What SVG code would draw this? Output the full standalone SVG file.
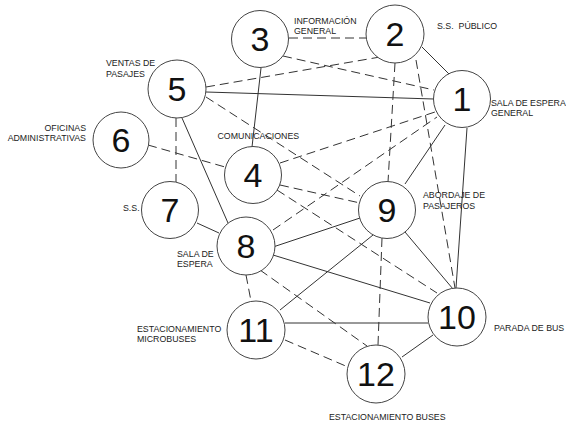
<svg xmlns="http://www.w3.org/2000/svg" width="566" height="425" viewBox="0 0 566 425">
<style>
.bg{fill:#fff}
.s{stroke:#333;stroke-width:1;fill:none}
.d{stroke:#333;stroke-width:1;fill:none;stroke-dasharray:9,5}
.n circle{fill:#fff;stroke:#444;stroke-width:1}
.n text{font-family:"Liberation Sans",Arial,sans-serif;font-size:34px;fill:#111;text-anchor:middle}
.l{font-family:"Liberation Sans",Arial,sans-serif;font-size:8.8px;fill:#222}
.e{text-anchor:end}
</style>
<rect class="bg" width="566" height="425"/>
<g id="connectors">
<line class="s" x1="422" y1="47" x2="450" y2="75"/>
<line class="s" x1="206" y1="92" x2="434" y2="99"/>
<line class="s" x1="261" y1="68" x2="252" y2="147"/>
<line class="s" x1="182" y1="118" x2="228" y2="223"/>
<line class="s" x1="197" y1="223" x2="219" y2="233"/>
<line class="s" x1="273" y1="247" x2="360" y2="218"/>
<line class="s" x1="273" y1="255" x2="430" y2="303"/>
<line class="s" x1="405" y1="184" x2="445" y2="125"/>
<line class="s" x1="467" y1="128" x2="456" y2="288"/>
<line class="s" x1="405" y1="232" x2="453" y2="289"/>
<line class="s" x1="280" y1="310" x2="373" y2="235"/>
<line class="s" x1="285" y1="323" x2="428" y2="323"/>
<line class="s" x1="402" y1="357" x2="433" y2="335"/>
<line class="d" x1="289" y1="38" x2="366" y2="38"/>
<line class="d" x1="283" y1="56" x2="434" y2="90"/>
<line class="d" x1="206" y1="87" x2="380" y2="57"/>
<line class="d" x1="176" y1="118" x2="176" y2="182"/>
<line class="d" x1="206" y1="97" x2="360" y2="196"/>
<line class="d" x1="148" y1="145" x2="225" y2="167"/>
<line class="d" x1="280" y1="163" x2="435" y2="112"/>
<line class="d" x1="280" y1="185" x2="360" y2="203"/>
<line class="d" x1="277" y1="190" x2="437" y2="293"/>
<line class="d" x1="273" y1="230" x2="437" y2="117"/>
<line class="d" x1="395" y1="63" x2="388" y2="182"/>
<line class="d" x1="416" y1="60" x2="455" y2="288"/>
<line class="d" x1="382" y1="238" x2="378" y2="345"/>
<line class="d" x1="246" y1="275" x2="251" y2="301"/>
<line class="d" x1="260" y1="270" x2="367" y2="346"/>
<line class="d" x1="285" y1="340" x2="348" y2="367"/>
</g>
<g id="node1" class="n"><circle cx="462" cy="99" r="28.5"/><text x="462" y="111">1</text></g>
<g id="node2" class="n"><circle cx="395" cy="34" r="29"/><text x="395" y="46">2</text></g>
<g id="node3" class="n"><circle cx="260" cy="39" r="28.5"/><text x="260" y="51">3</text></g>
<g id="node4" class="n"><circle cx="253" cy="175" r="28.5"/><text x="253" y="187">4</text></g>
<g id="node5" class="n"><circle cx="177" cy="89" r="29"/><text x="177" y="101">5</text></g>
<g id="node6" class="n"><circle cx="121" cy="140" r="28"/><text x="121" y="152">6</text></g>
<g id="node7" class="n"><circle cx="170" cy="210" r="28.5"/><text x="170" y="222">7</text></g>
<g id="node8" class="n"><circle cx="246" cy="246" r="29"/><text x="246" y="258">8</text></g>
<g id="node9" class="n"><circle cx="387" cy="210" r="28.5"/><text x="387" y="222">9</text></g>
<g id="node10" class="n"><circle cx="457" cy="317" r="29"/><text x="457" y="329">10</text></g>
<g id="node11" class="n"><circle cx="256" cy="330" r="29"/><text x="256" y="342">11</text></g>
<g id="node12" class="n"><circle cx="376" cy="374" r="29"/><text x="376" y="386">12</text></g>
<g id="labels">
<text class="l" x="294" y="24">INFORMACIÓN</text>
<text class="l" x="294" y="33.5">GENERAL</text>
<text class="l" x="437" y="28.5" xml:space="preserve">S.S.  PÚBLICO</text>
<text class="l" x="491" y="106">SALA DE ESPERA</text>
<text class="l" x="491" y="116">GENERAL</text>
<text class="l" x="106" y="66">VENTAS DE</text>
<text class="l" x="106" y="76.5">PASAJES</text>
<text class="l e" x="86" y="131">OFICINAS</text>
<text class="l e" x="86" y="141">ADMINISTRATIVAS</text>
<text class="l" x="217.5" y="138.5">COMUNICACIONES</text>
<text class="l" x="123" y="211">S.S.</text>
<text class="l" x="177" y="257">SALA DE</text>
<text class="l" x="177" y="267">ESPERA</text>
<text class="l" x="423" y="198">ABORDAJE DE</text>
<text class="l" x="423" y="209">PASAJEROS</text>
<text class="l" x="137" y="332">ESTACIONAMIENTO</text>
<text class="l" x="137" y="342">MICROBUSES</text>
<text class="l" x="494" y="331">PARADA DE BUS</text>
<text class="l" x="329" y="420">ESTACIONAMIENTO BUSES</text>
</g>
</svg>
